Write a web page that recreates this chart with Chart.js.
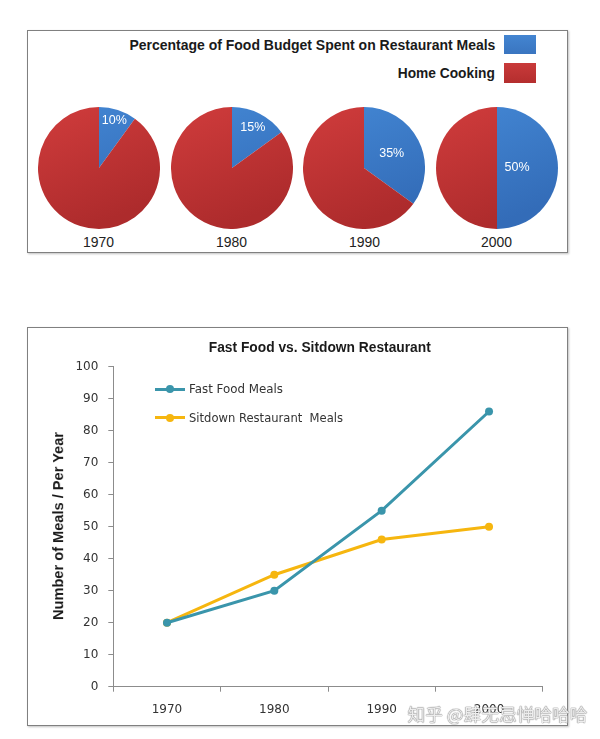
<!DOCTYPE html>
<html><head><meta charset="utf-8">
<script src="https://cdn.jsdelivr.net/npm/chart.js@4.4.0/dist/chart.umd.min.js"></script>
<style>
html,body{margin:0;padding:0;background:#fff;width:600px;height:739px;overflow:hidden;position:relative;font-family:"Liberation Sans",Arial,sans-serif;}
.panel{position:absolute;border:1px solid #808080;box-sizing:border-box;box-shadow:1px 1px 2px rgba(0,0,0,0.25);}
.t{position:absolute;white-space:pre;line-height:1;}
canvas{position:absolute;}
.box{position:absolute;}
</style></head><body>
<div class="panel" style="left:27px;top:30px;width:541px;height:223px;"></div>
<div class="panel" style="left:27px;top:327px;width:541px;height:399px;"></div>
<div class="box" style="left:504px;top:35px;width:32px;height:19px;background:linear-gradient(#4385d1,#3a75c0);"></div>
<div class="box" style="left:504px;top:63px;width:32px;height:20px;background:linear-gradient(#c93a3a,#b42e2e);"></div>
<canvas id="line" width="541" height="398" style="left:27px;top:327px;"></canvas>
<script>
// ---- data ----
const years = ['1970', '1980', '1990', '2000'];
const restaurantPct = [10, 15, 35, 50];
const homeCookingPct = [90, 85, 65, 50];
const fastFoodMeals = [20, 30, 55, 86];
const sitdownMeals = [20, 35, 46, 50];
const pieLegendLabels = ['Percentage of Food Budget Spent on Restaurant Meals', 'Home Cooking'];
const lineSeriesLabels = ['Fast Food Meals', 'Sitdown Restaurant  Meals'];
const lineTitle = 'Fast Food vs. Sitdown Restaurant';
const yAxisTitle = 'Number of Meals / Per Year';

// ---- layout ----
const pieCX = [99, 231.7, 364.3, 497];
const pieCY = 168;
const pieSize = 122;
const TEAL = '#3a95ab', GOLD = '#f6b60f';

function place(text, x, y, opts) {
  const d = document.createElement('div');
  d.className = 't';
  d.textContent = text;
  d.style.font = opts.font;
  d.style.color = opts.color || '#1a1a1a';
  if (opts.shadow) d.style.textShadow = opts.shadow;
  document.body.appendChild(d);
  const r = d.getBoundingClientRect();
  const s = opts.width ? opts.width / r.width : 1;
  const w = r.width, h = r.height;
  let left;
  if (opts.align === 'right') left = x - w;
  else if (opts.align === 'left') left = x;
  else left = x - w / 2;
  d.style.left = left + 'px';
  d.style.top = (y - h / 2) + 'px';
  d.style.transformOrigin = opts.align === 'right' ? 'right center' : (opts.align === 'left' ? 'left center' : 'center center');
  d.style.transform = (opts.rotate ? 'rotate(' + opts.rotate + 'deg) ' : '') + 'scaleX(' + s + ')';
  return d;
}

// top legend text
place(pieLegendLabels[0], 495, 45, {font: 'bold 14px "Liberation Sans"', width: 366, align: 'right'});
place(pieLegendLabels[1], 495, 73, {font: 'bold 14px "Liberation Sans"', width: 97, align: 'right'});

// pies
function grad(chart, c1, c2) {
  const a = chart.chartArea;
  if (!a) return c1;
  const g = chart.ctx.createLinearGradient(a.left, a.top, a.right * 0.4 + a.left * 0.6, a.bottom);
  g.addColorStop(0, c1); g.addColorStop(1, c2);
  return g;
}
const pieLabel = {
  id: 'pieLabel',
  afterDatasetsDraw(chart) {
    const meta = chart.getDatasetMeta(0);
    const arc = meta.data[0];
    const data = chart.data.datasets[0].data;
    const v = data[0];
    const f = v / (data[0] + data[1]);
    const mid = (arc.startAngle + arc.endAngle) / 2;
    const d = arc.outerRadius * (0.93 - 1.2 * f);
    const c = chart.ctx;
    c.save();
    c.fillStyle = '#ffffff';
    c.font = '12.5px "Liberation Sans"';
    c.textAlign = 'center'; c.textBaseline = 'middle';
    c.fillText(v + '%', arc.x + Math.cos(mid) * d, arc.y + Math.sin(mid) * d);
    c.restore();
  }
};
years.forEach((yr, i) => {
  const cv = document.createElement('canvas');
  cv.width = pieSize; cv.height = pieSize;
  cv.style.left = (pieCX[i] - pieSize / 2) + 'px';
  cv.style.top = (pieCY - pieSize / 2) + 'px';
  document.body.appendChild(cv);
  new Chart(cv, {
    type: 'pie',
    data: {
      labels: pieLegendLabels,
      datasets: [{
        data: [restaurantPct[i], homeCookingPct[i]],
        backgroundColor: ctx => ctx.dataIndex === 0
          ? grad(ctx.chart, '#4488d5', '#336cb8')
          : grad(ctx.chart, '#d03c3c', '#ad2b2c'),
        borderWidth: 0
      }]
    },
    options: {
      responsive: false, animation: false,
      layout: {padding: 0},
      plugins: {legend: {display: false}, tooltip: {enabled: false}}
    },
    plugins: [pieLabel]
  });
  place(yr, pieCX[i], 242, {font: '14px "Liberation Sans"', width: 31, color: '#222'});
});

// line chart
new Chart(document.getElementById('line'), {
  type: 'line',
  data: {
    labels: years,
    datasets: [
      {label: lineSeriesLabels[0], data: fastFoodMeals, borderColor: TEAL, backgroundColor: TEAL,
       pointBackgroundColor: TEAL, pointBorderColor: TEAL, borderWidth: 3, pointRadius: 4, pointBorderWidth: 0, tension: 0},
      {label: lineSeriesLabels[1], data: sitdownMeals, borderColor: GOLD, backgroundColor: GOLD,
       pointBackgroundColor: GOLD, pointBorderColor: GOLD, borderWidth: 3, pointRadius: 4, pointBorderWidth: 0, tension: 0}
    ]
  },
  options: {
    responsive: false, animation: false,
    layout: {padding: {left: 0, top: 39.7, right: 25.3, bottom: 0}},
    plugins: {legend: {display: false}, tooltip: {enabled: false}, title: {display: false}},
    scales: {
      x: {
        type: 'category', offset: true,
        grid: {offset: true, drawOnChartArea: false, tickLength: 5, color: '#8c8c8c'},
        border: {color: '#8c8c8c'},
        ticks: {font: {family: 'DejaVu Sans', size: 12}, color: '#333', padding: 11, maxRotation: 0},
        afterFit: s => { s.height = 38.3; }
      },
      y: {
        min: 0, max: 100,
        grid: {drawOnChartArea: false, tickLength: 5, color: '#8c8c8c'},
        border: {color: '#8c8c8c'},
        ticks: {stepSize: 10, font: {family: 'DejaVu Sans', size: 12}, color: '#333', padding: 10},
        afterFit: s => { s.width = 86.3; }
      }
    }
  }
});

// line chart texts
place(lineTitle, 320, 347, {font: 'bold 14px "Liberation Sans"', width: 222});
place(yAxisTitle, 58, 526, {font: 'bold 14px "Liberation Sans"', width: 188, rotate: -90});

// in-plot legend
const legendColors = [TEAL, GOLD];
const legendY = [389, 417.5];
lineSeriesLabels.forEach((lab, i) => {
  const ln = document.createElement('div');
  ln.className = 'box';
  ln.style.cssText = `left:155px;top:${legendY[i] - 1.5}px;width:30px;height:3px;background:${legendColors[i]};`;
  document.body.appendChild(ln);
  const dot = document.createElement('div');
  dot.className = 'box';
  dot.style.cssText = `left:${170 - 4}px;top:${legendY[i] - 4}px;width:8px;height:8px;border-radius:50%;background:${legendColors[i]};`;
  document.body.appendChild(dot);
  place(lab, 189, legendY[i], {font: '12px "DejaVu Sans"', color: '#333', align: 'left', width: i === 0 ? 94 : 154});
});

// watermark
place('知乎 @肆无忌惮哈哈哈', 497, 713, {font: '17px "Noto Sans CJK SC"', color: 'rgba(255,255,255,0.85)', width: 180,
  shadow: '0 0 1px #888, 0 0 1px #888, 0 0 1px #888'});
</script>
</body></html>
